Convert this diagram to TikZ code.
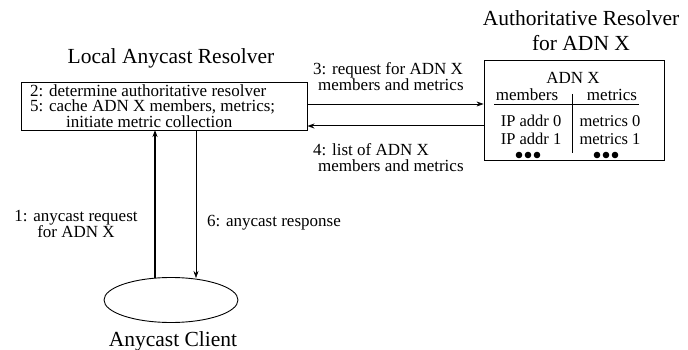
\documentclass[tikz,border=0pt]{standalone}
\usepackage{fontspec}
\setmainfont{Liberation Serif}
\usetikzlibrary{shapes.geometric,arrows.meta}
\begin{document}
\begin{tikzpicture}[x=1pt,y=-1pt,
  lbl/.style={font=\fontsize{17}{16.5}\selectfont,inner sep=0pt},
  ttl/.style={font=\fontsize{21.5}{25}\selectfont,inner sep=0pt,align=center},
  arr/.style={-{Stealth[length=7pt,width=5pt]}},
  box/.style={draw,line width=0.9pt}]
\useasboundingbox (0,0) rectangle (688,350);
% local resolver
\node[ttl] (ltitle) at (171,58) {Local Anycast Resolver};
\node[box,minimum width=286pt,minimum height=48pt,inner sep=0pt] (local) at (164,106) {};
\node[lbl,anchor=north west,align=left,font=\fontsize{17}{15.5}\selectfont] (ltext) at (30,84.5)
  {2: determine authoritative resolver\\5: cache ADN X members, metrics;\\\hspace*{36pt}initiate metric collection};
% authoritative
\node[ttl] (atitle) at (581,30.5) {Authoritative Resolver\\for ADN X};
\node[box,minimum width=180pt,minimum height=100pt,inner sep=0pt] (auth) at (574,110) {};
\node[lbl] (adn) at (573,78) {ADN X};
\node[lbl] (mem) at (527,95) {members};
\node[lbl] (met) at (612,95) {metrics};
\coordinate (hl) at (494,104);
\coordinate (hr) at (639,104);
\draw[line width=0.7pt] (hl) -- (hr);
\coordinate (vt) at (572,94);
\coordinate (vb) at (572,153);
\draw[line width=0.7pt] (vt) -- (vb);
\node[lbl,align=center,font=\fontsize{16.5}{17.5}\selectfont] (ips) at (531,130) {IP addr 0\\IP addr 1};
\node[lbl,align=center,font=\fontsize{16.5}{17.5}\selectfont] (mets) at (610,130) {metrics 0\\metrics 1};
\foreach \x in {528,606}{
  \foreach \dx in {-9,0,9}{\fill (\x+\dx,155) circle (3.3pt);}
}
% arrows between resolvers
\coordinate (a3s) at (local.east |- 0,104);
\coordinate (a3e) at (auth.west |- 0,104);
\draw[arr,line width=0.7pt] (a3s) -- (a3e);
\coordinate (a4s) at (auth.west |- 0,126);
\coordinate (a4e) at (local.east |- 0,126);
\draw[arr,line width=1pt] (a4s) -- (a4e);
\node[lbl,anchor=north west,align=left] (t3) at (313,62)
  {3: request for ADN X\\\hspace*{5pt}members and metrics};
\node[lbl,anchor=north west,align=left] (t4) at (313,143)
  {4: list of ADN X\\\hspace*{5pt}members and metrics};
% client
\node[draw,ellipse,line width=0.9pt,minimum width=134pt,minimum height=45pt,inner sep=0pt] (client) at (171,300) {};
\node[ttl] (ctitle) at (173,341) {Anycast Client};
\coordinate (c1) at (155,278);
\coordinate (b1) at (155,130);
\draw[arr,line width=1.4pt] (c1) -- (b1);
\coordinate (b6) at (196,130);
\coordinate (c6) at (196,278);
\draw[arr,line width=0.5pt] (b6) -- (c6);
\node[lbl,align=center] (t1) at (76,224) {1: anycast request\\for ADN X};
\node[lbl,anchor=west] (t6) at (207,223) {6: anycast response};
\end{tikzpicture}
\end{document}
